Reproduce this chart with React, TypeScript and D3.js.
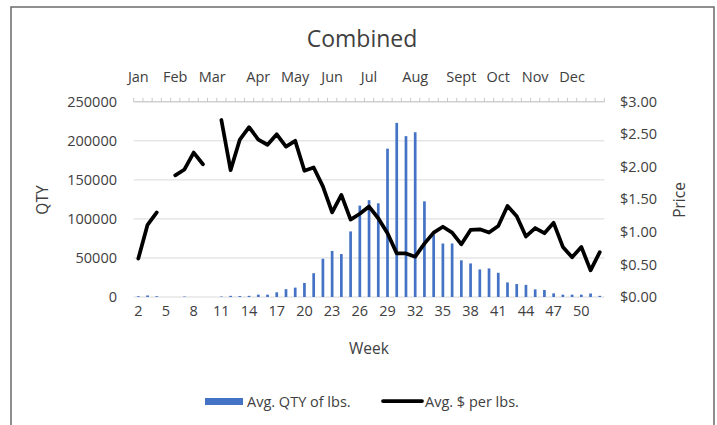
import { useEffect, useRef } from "react";
import * as d3 from "d3";

const WEEKS = d3.range(2, 53);

// Avg. QTY of lbs. per week (null = no data)
const QTY: (number | null)[] = [
  1000, 2000, 1000, null, 0, 600, 0, 0, null, 600,
  1500, 1200, 1500, 3000, 3000, 6000, 10000, 12000, 18000, 30500,
  49000, 59000, 55000, 84000, 117000, 124000, 120000, 190000, 223000, 206000,
  211000, 122500, 80000, 68500, 68500, 47000, 43000, 35300, 36600, 31000,
  18700, 16600, 15500, 9800, 9000, 4700, 3000, 3000, 3000, 4500,
  1500,
];

// Avg. $ per lbs. per week
const PRICE: (number | null)[] = [
  0.59, 1.11, 1.3, null, 1.87, 1.96, 2.22, 2.04, null, 2.72,
  1.95, 2.42, 2.61, 2.42, 2.34, 2.5, 2.31, 2.4, 1.94, 1.99,
  1.7, 1.3, 1.57, 1.19, 1.28, 1.39, 1.21, 0.98, 0.67, 0.67,
  0.62, 0.82, 0.99, 1.08, 0.99, 0.81, 1.03, 1.04, 0.99, 1.09,
  1.4, 1.24, 0.93, 1.06, 0.98, 1.14, 0.77, 0.61, 0.77, 0.41,
  0.69,
];

const MONTHS = ["Jan", "Feb", "Mar", "Apr", "May", "Jun", "Jul", "Aug", "Sept", "Oct", "Nov", "Dec"];
const MONTH_WEEKS = [2, 6, 10, 15, 19, 23, 27, 32, 37, 41, 45, 49];

const QTY_TICKS = [0, 50000, 100000, 150000, 200000, 250000];
const PRICE_TICKS = [0, 0.5, 1, 1.5, 2, 2.5, 3];

const W = 717;
const H = 425;
const PLOT = { left: 133.7, right: 604.4, top: 101.8, bottom: 297 };
const FONT = "'Open Sans', sans-serif";
const TEXT = "#404040";

export default function App() {
  const svgRef = useRef<SVGSVGElement>(null);

  useEffect(() => {
    const svg = d3.select(svgRef.current);
    svg.selectAll("*").remove();
    svg.attr("width", W).attr("height", H).attr("viewBox", `0 0 ${W} ${H}`);

    svg.append("rect").attr("width", W).attr("height", H).attr("fill", "#ffffff");

    // chart border
    svg.append("path")
      .attr("d", `M11,${H + 5} L11,7 L714,7 L714,${H + 5}`)
      .attr("fill", "none")
      .attr("stroke", "#6b6b6b")
      .attr("stroke-width", 1.5);

    const x = d3.scaleBand<number>()
      .domain(WEEKS)
      .range([PLOT.left, PLOT.right]);
    const cx = (w: number) => (x(w) ?? 0) + x.bandwidth() / 2;

    const yQty = d3.scaleLinear().domain([0, 250000]).range([PLOT.bottom, PLOT.top]);
    const yPrice = d3.scaleLinear().domain([0, 3]).range([PLOT.bottom, PLOT.top]);

    // title
    svg.append("text")
      .attr("x", 362)
      .attr("y", 47)
      .attr("text-anchor", "middle")
      .attr("font-family", FONT)
      .attr("font-size", "23px")
      .attr("fill", TEXT)
      .text("Combined");

    // gridlines
    svg.append("g")
      .selectAll("line")
      .data(QTY_TICKS)
      .join("line")
      .attr("x1", PLOT.left)
      .attr("x2", PLOT.right)
      .attr("y1", (d) => yQty(d))
      .attr("y2", (d) => yQty(d))
      .attr("stroke", "#d9d9d9")
      .attr("stroke-width", 1);

    // top (month) axis: line with upward ticks at category boundaries
    const topG = svg.append("g");
    topG.append("line")
      .attr("x1", PLOT.left)
      .attr("x2", PLOT.right)
      .attr("y1", PLOT.top)
      .attr("y2", PLOT.top)
      .attr("stroke", "#c8c8c8");
    topG.selectAll("line.tick")
      .data(d3.range(WEEKS.length + 1))
      .join("line")
      .attr("class", "tick")
      .attr("x1", (i) => PLOT.left + i * x.step())
      .attr("x2", (i) => PLOT.left + i * x.step())
      .attr("y1", PLOT.top)
      .attr("y2", PLOT.top - 4)
      .attr("stroke", "#c8c8c8");
    topG.selectAll("text")
      .data(MONTHS)
      .join("text")
      .attr("x", (_, i) => cx(MONTH_WEEKS[i]))
      .attr("y", 82)
      .attr("text-anchor", "middle")
      .attr("font-family", FONT)
      .attr("font-size", "14.5px")
      .attr("fill", TEXT)
      .text((d) => d);

    // bars
    const barW = 2.7;
    svg.append("g")
      .selectAll("rect")
      .data(WEEKS.map((w, i) => ({ w, v: QTY[i] })).filter((d) => d.v != null && d.v > 0))
      .join("rect")
      .attr("x", (d) => cx(d.w) - barW / 2)
      .attr("width", barW)
      .attr("y", (d) => yQty(d.v as number))
      .attr("height", (d) => PLOT.bottom - yQty(d.v as number))
      .attr("fill", "#4472c4");

    // price line
    const line = d3.line<number>()
      .defined((_, i) => PRICE[i] != null)
      .x((_, i) => cx(WEEKS[i]))
      .y((d) => yPrice(d));
    svg.append("path")
      .attr("d", line(PRICE as number[]))
      .attr("fill", "none")
      .attr("stroke", "#000000")
      .attr("stroke-width", 3.75)
      .attr("stroke-linejoin", "round")
      .attr("stroke-linecap", "round");

    // left axis labels
    svg.append("g")
      .selectAll("text")
      .data(QTY_TICKS)
      .join("text")
      .attr("x", 117)
      .attr("y", (d) => yQty(d))
      .attr("dy", "0.35em")
      .attr("text-anchor", "end")
      .attr("font-family", FONT)
      .attr("font-size", "14.5px")
      .attr("fill", TEXT)
      .text((d) => String(d));

    // right axis labels
    svg.append("g")
      .selectAll("text")
      .data(PRICE_TICKS)
      .join("text")
      .attr("x", 620)
      .attr("y", (d) => yPrice(d))
      .attr("dy", "0.35em")
      .attr("text-anchor", "start")
      .attr("font-family", FONT)
      .attr("font-size", "14.5px")
      .attr("fill", TEXT)
      .text((d) => d3.format("$.2f")(d));

    // bottom week labels, every third week
    svg.append("g")
      .selectAll("text")
      .data(WEEKS.filter((_, i) => i % 3 === 0))
      .join("text")
      .attr("x", (d) => cx(d))
      .attr("y", 316)
      .attr("text-anchor", "middle")
      .attr("font-family", FONT)
      .attr("font-size", "14.5px")
      .attr("fill", TEXT)
      .text((d) => String(d));

    // axis titles
    svg.append("text")
      .attr("x", 369)
      .attr("y", 354)
      .attr("text-anchor", "middle")
      .attr("font-family", FONT)
      .attr("font-size", "15.5px")
      .attr("fill", TEXT)
      .text("Week");

    svg.append("text")
      .attr("transform", `translate(43,200) rotate(-90)`)
      .attr("dy", "0.35em")
      .attr("text-anchor", "middle")
      .attr("font-family", FONT)
      .attr("font-size", "15.5px")
      .attr("fill", TEXT)
      .text("QTY");

    svg.append("text")
      .attr("transform", `translate(680,200) rotate(-90)`)
      .attr("dy", "0.35em")
      .attr("text-anchor", "middle")
      .attr("font-family", FONT)
      .attr("font-size", "15.5px")
      .attr("fill", TEXT)
      .text("Price");

    // legend
    const lg = svg.append("g").attr("font-family", FONT).attr("font-size", "14.5px").attr("fill", TEXT);
    lg.append("rect")
      .attr("x", 205)
      .attr("y", 398)
      .attr("width", 38)
      .attr("height", 7)
      .attr("fill", "#4472c4");
    lg.append("text")
      .attr("x", 247)
      .attr("y", 401.5)
      .attr("dy", "0.35em")
      .text("Avg. QTY of lbs.");
    lg.append("line")
      .attr("x1", 383)
      .attr("x2", 422)
      .attr("y1", 401)
      .attr("y2", 401)
      .attr("stroke", "#000000")
      .attr("stroke-width", 3.75)
      .attr("stroke-linecap", "round");
    lg.append("text")
      .attr("x", 425)
      .attr("y", 401.5)
      .attr("dy", "0.35em")
      .text("Avg. $ per lbs.");
  }, []);

  return <svg ref={svgRef} style={{ position: "absolute", left: 0, top: 0 }} />;
}
